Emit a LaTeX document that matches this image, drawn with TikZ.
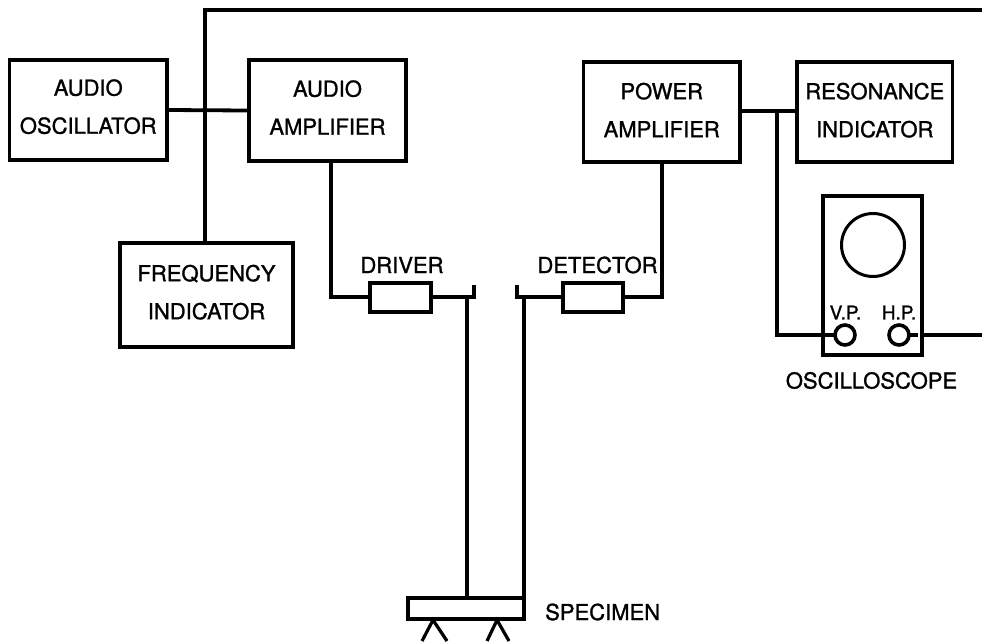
\documentclass[tikz,border=0pt]{standalone}
\usepackage{fontspec}
\setmainfont{TeX Gyre Heros}
\newfontfamily\labelfont[FakeBold=1.2]{TeX Gyre Heros}
\usetikzlibrary{calc}
\tikzset{
  x=1pt,y=-1pt,
  wire/.style={line width=3.2pt,line join=miter,line cap=rect},
  heavywire/.style={line width=3.8pt,line join=miter,line cap=rect},
  blockbox/.style={draw,line width=3.3pt,inner sep=0pt,align=center,font=\labelfont\fontsize{22}{38}\selectfont},
  lbl/.style={inner sep=0pt,font=\labelfont\fontsize{22}{24}\selectfont},
  small/.style={inner sep=0pt,font=\labelfont\fontsize{19}{20}\selectfont},
}
\begin{document}
\begin{tikzpicture}
\useasboundingbox (0,0) rectangle (982,641);
\node[blockbox,text depth=7pt,minimum width=157.5pt,minimum height=100pt] (osc) at (88.25,110) {AUDIO\\OSCILLATOR};
\node[blockbox,text depth=6pt,minimum width=157pt,minimum height=101pt] (aamp) at (327.5,110.5) {AUDIO\\AMPLIFIER};
\node[blockbox,text depth=4pt,minimum width=156.5pt,minimum height=100pt] (pamp) at (661.75,112) {POWER\\AMPLIFIER};
\node[blockbox,text depth=4pt,minimum width=155.5pt,minimum height=100pt] (res) at (874.75,112) {RESONANCE\\INDICATOR};
\node[blockbox,text depth=6pt,minimum width=173pt,minimum height=104pt] (freq) at (206.5,295) {FREQUENCY\\INDICATOR};
\node[blockbox,minimum width=61pt,minimum height=29pt] (drv) at (400.5,297.5) {};
\node[blockbox,minimum width=60pt,minimum height=29pt] (det) at (593,297.5) {};
\node[blockbox,minimum width=99pt,minimum height=159pt] (scope) at (872.5,275.5) {};
\node[blockbox,minimum width=116pt,minimum height=21pt] (spec) at (466,608.5) {};
\node[draw,circle,line width=3pt,minimum size=63pt,inner sep=0pt] (screen) at (873,245) {};
\node[draw,circle,line width=3.6pt,minimum size=20pt,inner sep=0pt] (vp) at (845,335) {};
\node[draw,circle,line width=3.6pt,minimum size=20pt,inner sep=0pt] (hp) at (899,335) {};
\node[small] (vpl) at (845.5,312.5) {V.P.};
\node[small] (hpl) at (899,312.5) {H.P.};
\node[lbl] (drvl) at (402,265) {DRIVER};
\node[lbl] (detl) at (597.5,265) {DETECTOR};
\node[lbl] (scopel) at (871.5,380.5) {OSCILLOSCOPE};
\node[lbl,anchor=west] (specl) at (545,612) {SPECIMEN};
% coordinates
\coordinate (topR) at (982,10);
\coordinate (topL) at (205,10);
\coordinate (rightEnd) at (982,335);
\coordinate (dl) at (331,297);
\coordinate (dr) at (662,297);
\coordinate (dtick) at (474,297);
\coordinate (ltick) at (517,287);
\coordinate (lcorner) at (517,297);
\coordinate (sl) at (467,297);
\coordinate (sr) at (524,297);
\coordinate (pj) at (777,111);
\coordinate (pb) at (777,335);
\coordinate (vpt) at (827,335);
\coordinate (hpt) at (916,335);
% wires
\draw[heavywire] (osc.east) -- (aamp.west);
\draw[heavywire] (topR) -- (topL);
\draw[wire] (topL) -- (freq.north -| topL);
\draw[heavywire] (pamp.east |- pj) -- (pj);
\draw[wire] (pj) -- (res.west |- pj);
\draw[wire] (pj) -- (pb) -- (scope.west |- pb);
\draw[wire] (vpt) -- (vp.west);
\draw[wire] (hp.east) -- (hpt);
\draw[wire] (scope.east |- rightEnd) -- (rightEnd);
\draw[wire] (aamp.south -| dl) -- (dl) -- (drv.west |- dl);
\draw[wire] (pamp.south -| dr) -- (dr) -- (det.east |- dr);
\draw[heavywire] (drv.east |- dtick) -- (dtick) -- ++(0,-10);
\draw[heavywire] (det.west |- lcorner) -- (lcorner) -- (ltick);
\draw[wire] (sl) -- (spec.north -| sl);
\draw[wire] (sr) -- (spec.north -| sr);
% supports
\draw[wire,line cap=butt] (422,641) -- (433,620) -- (447,641);
\draw[wire,line cap=butt] (487,641) -- (497,620) -- (509,641);
\end{tikzpicture}
\end{document}
